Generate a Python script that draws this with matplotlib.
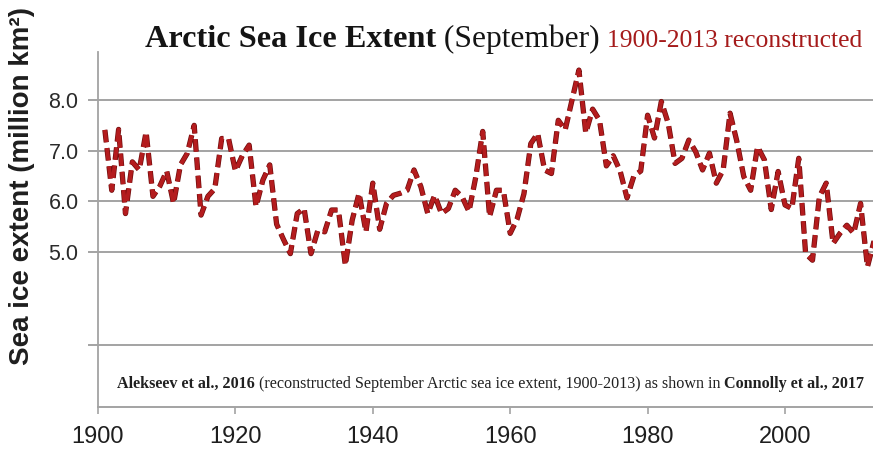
import matplotlib
matplotlib.use("Agg")
import matplotlib.pyplot as plt
import matplotlib.patheffects as pe
from matplotlib import font_manager

# ---- data: reconstructed September Arctic sea ice extent (million km^2) ----
years = list(range(1901, 2014))
extent = [
    7.41, 6.22, 7.42, 5.76, 6.78, 6.62, 7.37, 6.10, 6.30, 6.60,   # 1901-1910
    5.96, 6.72, 6.95, 7.50, 5.73, 6.10, 6.25, 7.24, 7.24, 6.60,   # 1911-1920
    6.90, 7.11, 5.90, 6.42, 6.72, 5.55, 5.25, 4.97, 5.76, 5.86,   # 1921-1930
    4.97, 5.43, 5.40, 5.83, 5.83, 4.74, 5.63, 6.16, 5.40, 6.36,   # 1931-1940
    5.45, 5.96, 6.12, 6.16, 6.22, 6.62, 6.29, 5.76, 6.12, 5.76,   # 1941-1950
    5.86, 6.22, 6.09, 5.80, 6.49, 7.38, 5.70, 6.22, 6.22, 5.37,   # 1951-1960
    5.65, 6.15, 7.14, 7.34, 6.62, 6.55, 7.60, 7.41, 8.00, 8.59,   # 1961-1970
    7.35, 7.82, 7.60, 6.70, 6.90, 6.60, 6.07, 6.50, 6.60, 7.70,   # 1971-1980
    7.25, 7.97, 7.54, 6.75, 6.85, 7.21, 6.98, 6.62, 6.95, 6.36,   # 1981-1990
    6.62, 7.74, 7.18, 6.49, 6.22, 7.08, 6.82, 5.84, 6.59, 5.93,   # 1991-2000
    5.86, 6.85, 4.97, 4.84, 6.09, 6.36, 5.17, 5.37, 5.53, 5.37,   # 2001-2010
    5.96, 4.71, 5.24,                                             # 2011-2013
]

y_ticks = [5.0, 6.0, 7.0, 8.0]
y_tick_labels = ["5.0", "6.0", "7.0", "8.0"]
x_ticks = [1900, 1920, 1940, 1960, 1980, 2000]
x_tick_labels = ["1900", "1920", "1940", "1960", "1980", "2000"]
lower_rule = 3.17

title_main = "Arctic Sea Ice Extent"
title_month = " (September)"
title_note = "1900-2013 reconstructed"
y_label = "Sea ice extent (million km²)"
credit_a = "Alekseev et al., 2016"
credit_mid = " (reconstructed September Arctic sea ice extent, 1900-2013) as shown in "
credit_b = "Connolly et al., 2017"

# ---- figure ----
W, H = 873, 454
fig = plt.figure(figsize=(W / 100, H / 100), dpi=100)
fig.patch.set_facecolor("white")

ax_left, ax_right, ax_top, ax_bottom = 98, 873, 52, 407
ax = fig.add_axes([ax_left / W, (H - ax_bottom) / H,
                   (ax_right - ax_left) / W, (ax_bottom - ax_top) / H])
px_per_year = 6.87
px_per_unit = 50.7
ax.set_xlim(1900, 1900 + (ax_right - ax_left) / px_per_year)
ax.set_ylim(8 - (ax_bottom - 100) / px_per_unit, 8 + (100 - ax_top) / px_per_unit)

grid_col = "#a3a3a3"
for v in y_ticks + [lower_rule]:
    ax.axhline(v, xmin=-0.011, xmax=1, color=grid_col, lw=1.4, zorder=1, clip_on=False)

for side in ("top", "right"):
    ax.spines[side].set_visible(False)
ax.spines["left"].set_color(grid_col)
ax.spines["left"].set_linewidth(1.3)
ax.spines["bottom"].set_color(grid_col)
ax.spines["bottom"].set_linewidth(1.4)

ax.plot(years, extent, color="#b41c1e", lw=2.8, linestyle=(0, (3.2, 1.5)),
        dash_capstyle="butt", zorder=3,
        path_effects=[pe.Stroke(linewidth=3.8, foreground="#6e0c0c"), pe.Normal()])

# axis fonts
names = {f.name for f in font_manager.fontManager.ttflist}
narrow = "Liberation Sans Narrow" if "Liberation Sans Narrow" in names else "Liberation Sans"
x_lab_size = 20 if narrow == "Liberation Sans Narrow" else 17

ax.set_yticks(y_ticks)
ax.set_yticklabels(y_tick_labels, fontsize=15.5, family="Liberation Sans", color="#2a2a2a")
ax.tick_params(axis="y", length=0, pad=14)
ax.set_xticks(x_ticks)
ax.set_xticklabels(x_tick_labels, fontsize=x_lab_size, family=narrow, color="#1e1e1e")
ax.tick_params(axis="x", length=5, width=1.2, color=grid_col, pad=8.5)

fig.text(22 / W, 1 - 186 / H, y_label, rotation=90, ha="center", va="center",
         fontsize=20, fontweight="bold", family="Liberation Sans", color="#1e1e1e")

renderer = fig.canvas.get_renderer()


def place_runs(runs, x0, baseline, target_w):
    """Lay text runs end to end from x0 (px) on a baseline, scaled to target width."""
    texts = []
    for s, weight, size, color, fam in runs:
        texts.append(fig.text(0, 1 - baseline / H, s, fontweight=weight, fontsize=size,
                              color=color, family=fam, ha="left", va="baseline"))
    total = sum(t.get_window_extent(renderer).width for t in texts)
    k = target_w / total
    for t in texts:
        t.set_fontsize(t.get_fontsize() * k)
    x = x0
    for t in texts:
        t.set_x(x / W)
        x += t.get_window_extent(renderer).width
    return texts


serif = "Liberation Serif"
place_runs([(title_main, "bold", 20.5, "#141414", serif),
            (title_month, "normal", 20, "#141414", serif)], 145, 47, 455)
place_runs([(title_note, "normal", 14, "#a51b1b", serif)], 607, 47, 258)
place_runs([(credit_a, "bold", 10, "#202020", serif),
            (credit_mid, "normal", 10, "#202020", serif),
            (credit_b, "bold", 10, "#202020", serif)], 117, 388, 751)

fig.savefig("out.png", dpi=100, facecolor="white")
